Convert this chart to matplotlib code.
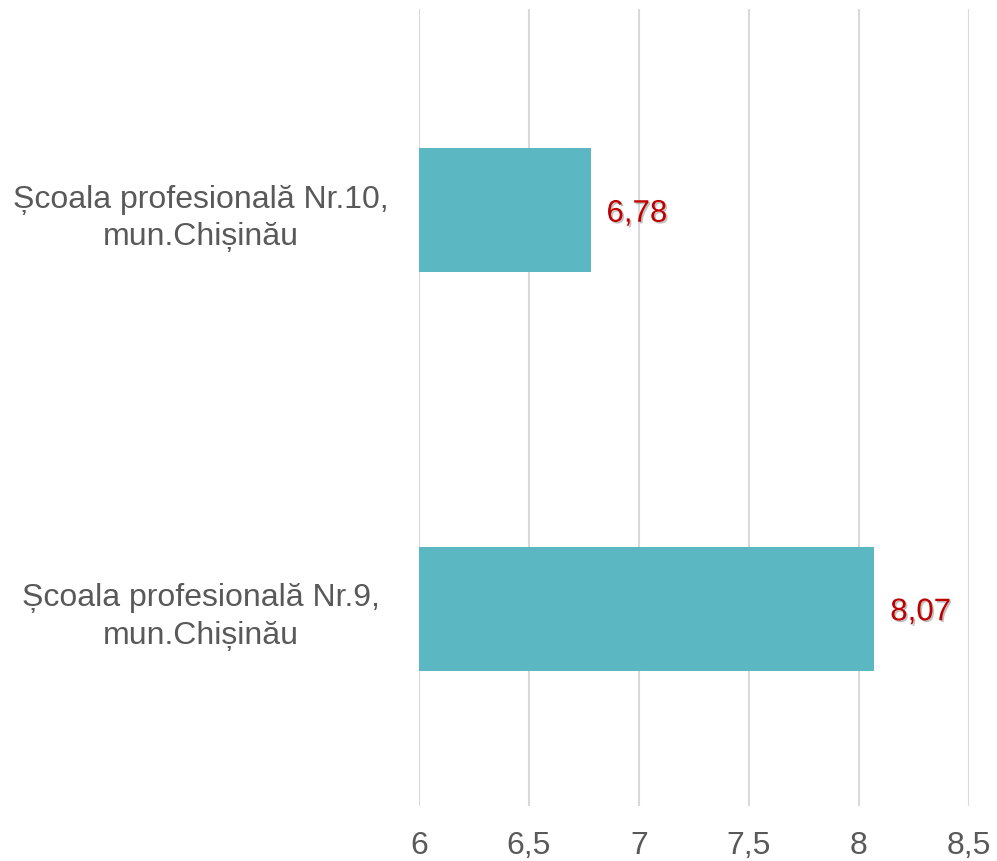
import matplotlib.pyplot as plt
import matplotlib.patheffects as pe

plt.rcParams['font.family'] = ['Liberation Sans', 'DejaVu Sans']

# top to bottom
schools = ['Școala profesională Nr.10,\nmun.Chișinău',
           'Școala profesională Nr.9,\nmun.Chișinău']
scores = [6.78, 8.07]
score_labels = ['6,78', '8,07']
xticks = [6, 6.5, 7, 7.5, 8, 8.5]
xtick_labels = ['6', '6,5', '7', '7,5', '8', '8,5']

fig = plt.figure(figsize=(9.97, 8.62), dpi=100)
ax = fig.add_axes([0.4203, 0.0638, 0.5516, 0.9246])

ypos = list(range(len(schools)))[::-1]
ax.barh(ypos, [s - 6 for s in scores], left=6, height=0.31, color='#5BB7C1', zorder=3)

for y, s, lab in zip(ypos, scores, score_labels):
    ax.text(s + 0.072, y, lab, va='center_baseline', ha='left', fontsize=22.5, color='#C00000', zorder=4,
            path_effects=[pe.SimplePatchShadow(offset=(1.2, -1.2), shadow_rgbFace='#999999', alpha=0.6),
                          pe.Normal()])

ax.set_xlim(6, 8.5)
ax.set_ylim(-0.495, 1.505)
ax.set_xticks(xticks)
ax.set_xticklabels(xtick_labels)
ax.set_yticks(ypos)
ax.set_yticklabels(schools, ha='center', multialignment='center', linespacing=1.32)
ax.tick_params(axis='x', length=0, pad=17, labelsize=23, labelcolor='#595959')
ax.tick_params(axis='y', length=0, pad=157, labelsize=23, labelcolor='#595959')
ax.grid(axis='x', color='#D9D9D9', linewidth=1.5, zorder=0)
for sp in ax.spines.values():
    sp.set_visible(False)

plt.savefig('out.png', dpi=100)
